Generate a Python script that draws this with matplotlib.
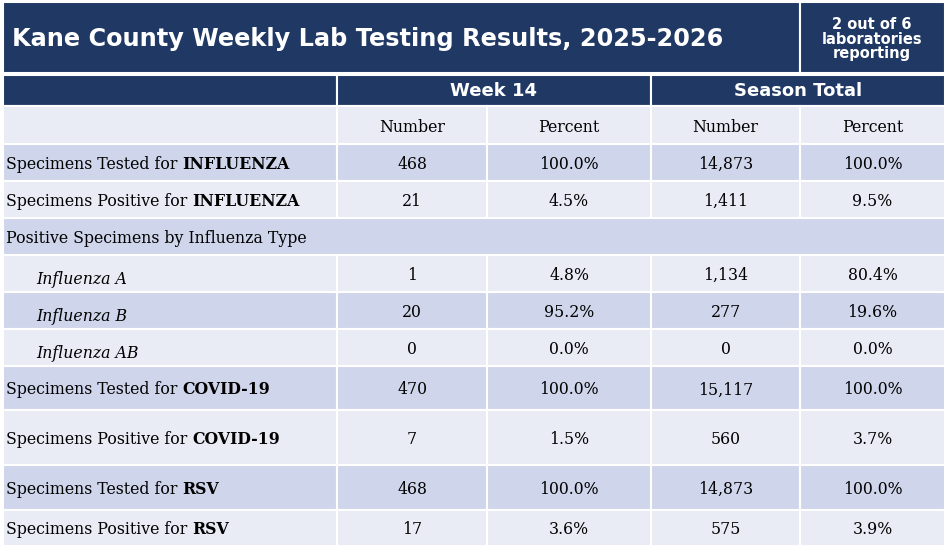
import matplotlib.pyplot as plt
from matplotlib.patches import Rectangle

NAVY = '#1F3864'
BLUE = '#CFD5EA'
LIGHT = '#E9EBF5'

title = "Kane County Weekly Lab Testing Results, 2025-2026"
labs_note = "2 out of 6\nlaboratories\nreporting"
groups = ["Week 14", "Season Total"]
subheads = ["Number", "Percent", "Number", "Percent"]

row_prefix = ["Specimens Tested for ", "Specimens Positive for ",
              "Positive Specimens by Influenza Type",
              "Influenza A", "Influenza B", "Influenza AB",
              "Specimens Tested for ", "Specimens Positive for ",
              "Specimens Tested for ", "Specimens Positive for "]
row_bold = ["INFLUENZA", "INFLUENZA", "", "", "", "",
            "COVID-19", "COVID-19", "RSV", "RSV"]
week_num = ["468", "21", "", "1", "20", "0", "470", "7", "468", "17"]
week_pct = ["100.0%", "4.5%", "", "4.8%", "95.2%", "0.0%", "100.0%", "1.5%", "100.0%", "3.6%"]
season_num = ["14,873", "1,411", "", "1,134", "277", "0", "15,117", "560", "14,873", "575"]
season_pct = ["100.0%", "9.5%", "", "80.4%", "19.6%", "0.0%", "100.0%", "3.7%", "100.0%", "3.9%"]
italic_rows = [3, 4, 5]

# layout (pixels)
col_edges = [3, 337, 487, 651, 800, 945]
row_edges = [144, 181, 218, 255, 292, 329, 366, 410, 465, 510, 546]

fig = plt.figure(figsize=(9.5, 5.46), dpi=100)
ax = fig.add_axes([0, 0, 1, 1])
ax.set_xlim(0, 950)
ax.set_ylim(546, 0)
ax.axis('off')

def rect(x0, y0, x1, y1, c):
    ax.add_patch(Rectangle((x0, y0), x1 - x0, y1 - y0, facecolor=c, edgecolor='white', lw=1.5))

SERIF = 'DejaVu Serif'
FS = 11.3
# title bar
rect(3, 2, 800, 73, NAVY)
rect(800, 2, 945, 73, NAVY)
ax.text(12, 39, title, color='white', fontsize=17.3, fontweight='bold', va='center', ha='left')
ax.text(872, 39, labs_note, color='white', fontsize=10.5, fontweight='bold', va='center',
        ha='center', linespacing=0.95)
# group header
rect(3, 75, 337, 106, NAVY)
rect(337, 75, 651, 106, NAVY)
rect(651, 75, 945, 106, NAVY)
ax.text(494, 91, groups[0], color='white', fontsize=13, fontweight='bold', va='center', ha='center')
ax.text(798, 91, groups[1], color='white', fontsize=13, fontweight='bold', va='center', ha='center')
# subheader
for i in range(5):
    rect(col_edges[i], 106, col_edges[i + 1], 144, LIGHT)
for i, s in enumerate(subheads):
    ax.text((col_edges[i + 1] + col_edges[i + 2]) / 2, 127, s, fontsize=FS,
            family=SERIF, va='center', ha='center')

fig.canvas.draw()
renderer = fig.canvas.get_renderer()
for r in range(len(row_prefix)):
    y0, y1 = row_edges[r], row_edges[r + 1]
    c = BLUE if r % 2 == 0 else LIGHT
    if r == 2:
        rect(3, y0, 945, y1, c)
    else:
        for i in range(5):
            rect(col_edges[i], y0, col_edges[i + 1], y1, c)
    ym = (y0 + y1) / 2 + 2
    if r in italic_rows:
        ax.text(36, ym + 4, row_prefix[r], fontsize=FS, family=SERIF, style='italic', va='center')
    else:
        t = ax.text(6, ym, row_prefix[r], fontsize=FS, family=SERIF, va='center')
        if row_bold[r]:
            bb = t.get_window_extent(renderer)
            xb = ax.transData.inverted().transform((bb.x1, 0))[0]
            ax.text(xb, ym, row_bold[r], fontsize=FS, family=SERIF, fontweight='bold', va='center')
    for i, vals in enumerate([week_num, week_pct, season_num, season_pct]):
        ax.text((col_edges[i + 1] + col_edges[i + 2]) / 2, ym, vals[r], fontsize=FS,
                family=SERIF, va='center', ha='center')

fig.savefig('out.png', dpi=100)
